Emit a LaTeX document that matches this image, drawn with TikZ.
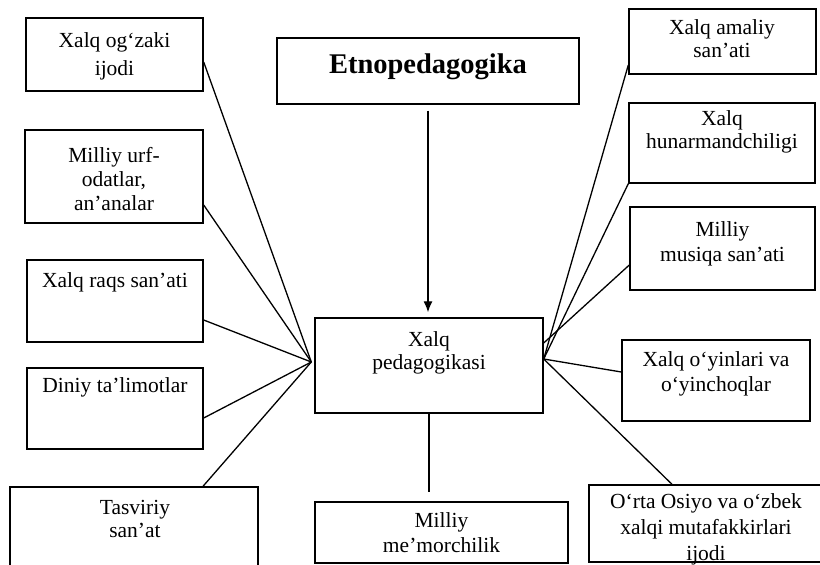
\documentclass[tikz,border=0pt]{standalone}
\usepackage{fontspec}
\setmainfont{Liberation Serif}
\usetikzlibrary{arrows.meta,calc}
\begin{document}
\begin{tikzpicture}[x=1pt,y=-1pt,
  box/.style={draw, line width=1.4pt, inner sep=0pt, anchor=center},
  lbl/.style={align=center, inner sep=0pt, font=\fontsize{21.5}{25}\selectfont},
  conn/.style={line width=1.3pt},
]
\useasboundingbox (0,0) rectangle (820,565);
% boxes
\node[box, minimum width=177pt, minimum height=73pt] (b1) at (114.5,54.5) {};
\node[box, minimum width=178pt, minimum height=93pt] (b2) at (114,176.5) {};
\node[box, minimum width=176pt, minimum height=82pt] (b3) at (115,301) {};
\node[box, minimum width=176pt, minimum height=81pt] (b4) at (115,408.5) {};
\node[box, minimum width=248pt, minimum height=84pt] (b5) at (134,529) {};
\node[box, minimum width=302pt, minimum height=66pt] (etno) at (428,71) {};
\node[box, minimum width=228pt, minimum height=95pt] (ctr) at (429,365.5) {};
\node[box, minimum width=253pt, minimum height=61pt] (mem) at (441.5,532.5) {};
\node[box, minimum width=187pt, minimum height=65pt] (r1) at (722.5,41.5) {};
\node[box, minimum width=186pt, minimum height=80pt] (r2) at (722,143) {};
\node[box, minimum width=185pt, minimum height=83pt] (r3) at (722.5,248.5) {};
\node[box, minimum width=188pt, minimum height=81pt] (r4) at (716,380.5) {};
\node[box, minimum width=251pt, minimum height=77pt] (r5) at (714.5,523.5) {};
% labels
\node[lbl, font=\fontsize{21.5}{28}\selectfont] (b1t) at (114.5,56.5) {Xalq og‘zaki\\ijodi};
\node[lbl, font=\fontsize{21.5}{24}\selectfont] (b2t) at (114,179) {Milliy urf-\\odatlar,\\an’analar};
\node[lbl] (b3t) at (115,282) {Xalq raqs san’ati};
\node[lbl] (b4t) at (115,387) {Diniy ta’limotlar};
\node[lbl, font=\fontsize{21.5}{23}\selectfont] (b5t) at (135,519) {Tasviriy\\san’at};
\node[lbl, font=\fontsize{28.5}{30}\selectfont\bfseries] (etnot) at (428,67) {Etnopedagogika};
\node[lbl, font=\fontsize{21.5}{23}\selectfont] (ctrt) at (429,353) {Xalq\\pedagogikasi};
\node[lbl] (memt) at (441.5,533) {Milliy\\me’morchilik};
\node[lbl, font=\fontsize{21.5}{23}\selectfont] (r1t) at (722,38.5) {Xalq amaliy\\san’ati};
\node[lbl, font=\fontsize{21.5}{23}\selectfont] (r2t) at (722,131.5) {Xalq\\hunarmandchiligi};
\node[lbl] (r3t) at (722.5,244) {Milliy\\musiqa san’ati};
\node[lbl] (r4t) at (716,374) {Xalq o‘yinlari va\\o‘yinchoqlar};
\node[lbl, font=\fontsize{21.5}{26}\selectfont] (r5t) at (706,529) {O‘rta Osiyo va o‘zbek\\xalqi mutafakkirlari\\ijodi};
% junctions
\coordinate (jl) at ([xshift=-3pt,yshift=3.5pt]ctr.west);
\coordinate (jr) at ([yshift=6.5pt]ctr.east);
% connectors
\draw[conn] ([yshift=-7.5pt]b1.east) -- (jl);
\draw[conn] ([yshift=-28.5pt]b2.east) -- (jl);
\draw[conn] ([yshift=-19pt]b3.east) -- (jl);
\draw[conn] ([yshift=-9.5pt]b4.east) -- (jl);
\draw[conn] ([xshift=69pt]b5.north) -- (jl);
\draw[conn] ([yshift=-23.5pt]r1.west) -- (jr);
\draw[conn] (r2.south west) -- (jr);
\draw[conn] ([yshift=-16.5pt]r3.west) -- ([yshift=22.5pt]ctr.east);
\draw[conn] ([yshift=8.5pt]r4.west) -- (jr);
\draw[conn] ([xshift=-42.5pt]r5.north) -- (jr);
\draw[conn, -{Latex[length=11pt,width=9pt]}, shorten <=6pt, shorten >=5pt] (etno.south) -- (etno.south |- ctr.north);
\draw[conn, shorten >=9pt] (ctr.south) -- (ctr.south |- mem.north);
\end{tikzpicture}
\end{document}
